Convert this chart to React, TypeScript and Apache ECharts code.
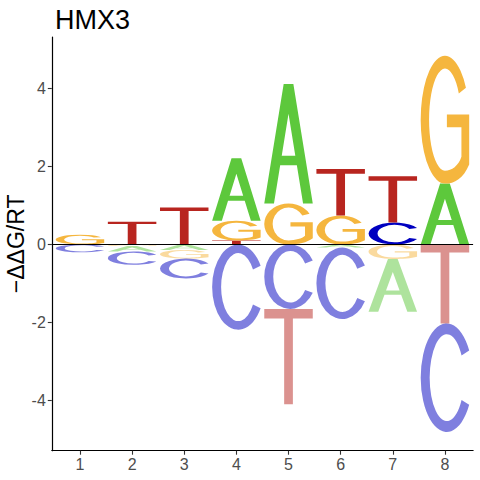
import React, { useEffect, useRef } from "react";
import * as echarts from "echarts";

// ---- data ----
const POSITIONS = [1, 2, 3, 4, 5, 6, 7, 8];
const LETTERS = ["A", "C", "G", "T"];
const VALUES_A = [0, -0.14, -0.14, 1.6, 3.06, -0.08, -1.35, 1.56];
const VALUES_C = [-0.2, -0.34, -0.51, -2.18, -1.65, -1.83, 0.56, -2.78];
const VALUES_G = [0.25, -0.04, -0.22, 0.51, 1.05, 0.74, -0.37, 3.27];
const VALUES_T = [0, 0.58, 0.95, 0.1, -2.44, 1.19, 1.19, -2.02];
const Y_TICKS = [-4, -2, 0, 2, 4];
const TITLE = "HMX3";
const Y_NAME = "\u2212\u0394\u0394G/RT";

const LETTER_COLORS = ["#5DC83C", "#0000C0", "#F5B63E", "#B8251F"];

// letter outlines in a 100x100 box (stretched to fill each letter's cell)
const LETTER_PATHS = [
  // A
  "M0,100 L40,0 L60,0 L100,100 L80,100 L67.2,68 L32.8,68 L20,100 Z M36,60 L64,60 L50,25 Z",
  // C
  "M93.3,25 A50,50 0 1,0 93.3,75 L78.6,70.5 A33,40 0 1,1 78.6,29.5 Z",
  // G
  "M93.3,25 A50,50 0 1,0 50,100 C70,100 88,96 100,85 L100,46 L54,46 L54,56 L84,56 L84,79 C78,86 64,90 50,90 A33,40 0 1,1 78.6,29.5 Z",
  // T
  "M0,0 L100,0 L100,10 L59,10 L59,100 L41,100 L41,10 L0,10 Z",
];

const HALF_WIDTH = 0.465;

function buildItems() {
  const all = [VALUES_A, VALUES_C, VALUES_G, VALUES_T];
  const items: number[][] = [];
  POSITIONS.forEach((pos, i) => {
    const entries = all.map((arr, li) => ({ li, v: arr[i] }));
    const pos_ = entries.filter((e) => e.v > 0).sort((a, b) => a.v - b.v);
    const neg_ = entries.filter((e) => e.v < 0).sort((a, b) => b.v - a.v);
    let acc = 0;
    pos_.forEach((e) => {
      items.push([pos, acc, acc + e.v, e.li, 0]);
      acc += e.v;
    });
    acc = 0;
    neg_.forEach((e) => {
      items.push([pos, acc, acc + e.v, e.li, 1]);
      acc += e.v;
    });
  });
  return items;
}

export default function App() {
  const ref = useRef<HTMLDivElement>(null);
  useEffect(() => {
    document.body.style.margin = "0";
    const chart = echarts.init(ref.current!, null, { renderer: "svg" });
    const font = "Liberation Sans";
    chart.setOption({
      animation: false,
      backgroundColor: "#ffffff",
      title: {
        text: TITLE,
        left: 50,
        top: 1,
        textStyle: { fontFamily: font, fontSize: 27, fontWeight: "normal", color: "#000" },
      },
      grid: {
        left: 51.8,
        right: 6.9,
        top: 37.1,
        bottom: 29.3,
        containLabel: false,
        outerBoundsMode: "none",
      },
      xAxis: {
        type: "value",
        min: 0.46,
        max: 8.54,
        splitLine: { show: false },
        axisLine: { show: true, onZero: false, lineStyle: { color: "#000", width: 1.2 } },
        axisTick: { show: true, length: 4, customValues: POSITIONS, lineStyle: { color: "#333", width: 1.1 } },
        axisLabel: {
          customValues: POSITIONS,
          margin: 6,
          fontFamily: font,
          fontSize: 16,
          color: "#4D4D4D",
        },
      },
      yAxis: {
        type: "value",
        min: -5.28,
        max: 5.31,
        name: Y_NAME,
        nameLocation: "middle",
        nameRotate: 90,
        nameGap: 24,
        nameMoveOverlap: false,
        nameTextStyle: { fontFamily: font, fontSize: 23, color: "#000" },
        splitLine: { show: false },
        axisLine: { show: true, onZero: false, lineStyle: { color: "#000", width: 1.2 } },
        axisTick: { show: true, length: 4, customValues: Y_TICKS, lineStyle: { color: "#333", width: 1.1 } },
        axisLabel: {
          customValues: Y_TICKS,
          margin: 6,
          fontFamily: font,
          fontSize: 16,
          color: "#4D4D4D",
        },
      },
      series: [
        {
          type: "custom",
          data: buildItems(),
          encode: { x: 0, y: [1, 2] },
          renderItem: (params: any, api: any) => {
            const x = api.value(0);
            const y0 = api.value(1);
            const y1 = api.value(2);
            const li = api.value(3);
            const neg = api.value(4);
            const p0 = api.coord([x - HALF_WIDTH, Math.max(y0, y1)]);
            const p1 = api.coord([x + HALF_WIDTH, Math.min(y0, y1)]);
            return {
              type: "path",
              shape: {
                pathData: LETTER_PATHS[li],
                x: p0[0],
                y: p0[1],
                width: p1[0] - p0[0],
                height: Math.max(p1[1] - p0[1], 0.01),
                layout: "cover",
              },
              style: { fill: LETTER_COLORS[li], opacity: neg ? 0.5 : 1 },
            };
          },
          markLine: {
            silent: true,
            symbol: "none",
            label: { show: false },
            lineStyle: { color: "#000", width: 1, type: "solid" },
            data: [{ yAxis: 0 }],
          },
          z: 2,
        },
      ],
    });
    return () => chart.dispose();
  }, []);
  return (
    <div
      ref={ref}
      style={{ position: "fixed", left: 0, top: 0, width: 480, height: 480 }}
    />
  );
}
